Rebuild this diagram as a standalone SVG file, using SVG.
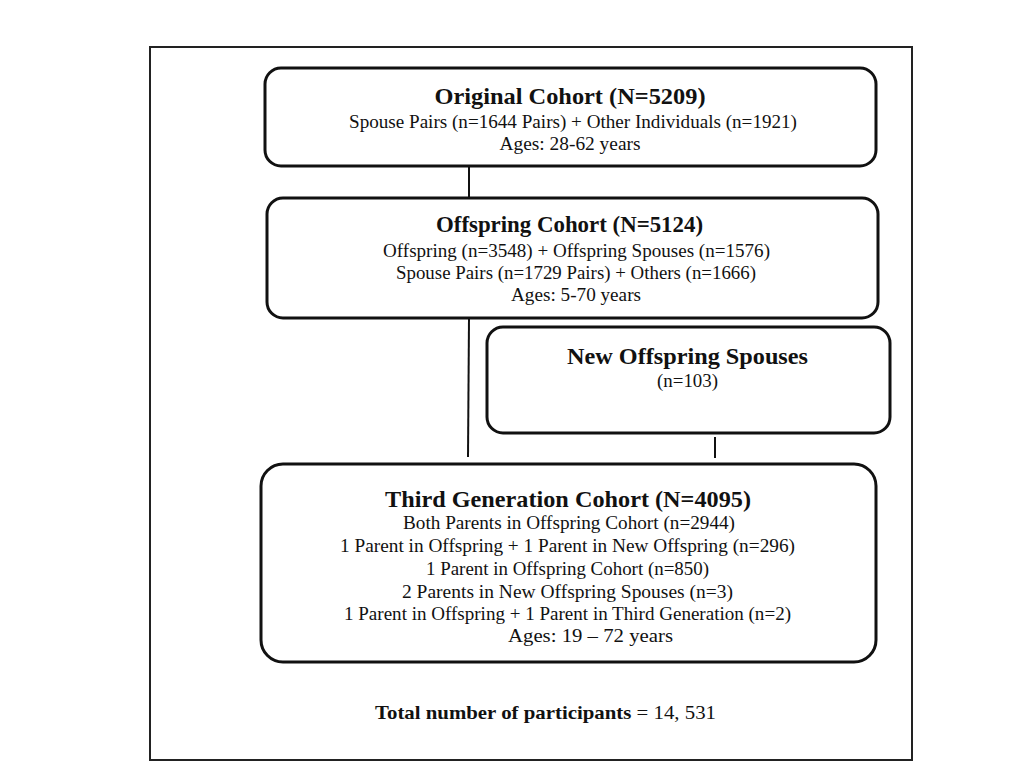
<svg xmlns="http://www.w3.org/2000/svg" width="1024" height="768" viewBox="0 0 1024 768">
<style>
.box{fill:#fff;stroke:#111;stroke-width:3}
.frame{fill:#fff;stroke:#222;stroke-width:2}
.conn{stroke:#111;stroke-width:2;fill:none}
text{font-family:"Liberation Serif","Times New Roman",Times,serif;fill:#111;text-anchor:middle}
.t{font-size:23px;font-weight:bold}
.b{font-size:18.5px}
.tot{font-size:19px}
</style>
<rect width="1024" height="768" fill="#fff"/>
<rect class="frame" x="150" y="47" width="762" height="713"/>
<g id="connectors">
<line class="conn" x1="469" y1="166" x2="469" y2="198"/>
<line class="conn" x1="469" y1="318" x2="468" y2="457"/>
<line class="conn" x1="715" y1="437" x2="715" y2="458"/>
</g>
<g id="original">
<rect class="box" x="265" y="68" width="611" height="98" rx="16"/>
<text class="t" x="570" y="104" textLength="271" lengthAdjust="spacingAndGlyphs">Original Cohort (N=5209)</text>
<text class="b" x="573" y="128" textLength="448" lengthAdjust="spacingAndGlyphs">Spouse Pairs (n=1644 Pairs) + Other Individuals (n=1921)</text>
<text class="b" x="570" y="150" textLength="141" lengthAdjust="spacingAndGlyphs">Ages: 28-62 years</text>
</g>
<g id="offspring">
<rect class="box" x="267" y="198" width="611" height="120" rx="16"/>
<text class="t" x="569.5" y="232" textLength="267" lengthAdjust="spacingAndGlyphs">Offspring Cohort (N=5124)</text>
<text class="b" x="576.5" y="257" textLength="387" lengthAdjust="spacingAndGlyphs">Offspring (n=3548) + Offspring Spouses (n=1576)</text>
<text class="b" x="576" y="279" textLength="360" lengthAdjust="spacingAndGlyphs">Spouse Pairs (n=1729 Pairs) + Others (n=1666)</text>
<text class="b" x="576" y="301" textLength="130" lengthAdjust="spacingAndGlyphs">Ages: 5-70 years</text>
</g>
<g id="newspouses">
<rect class="box" x="487" y="327" width="403" height="106" rx="16"/>
<text class="t" x="687.5" y="364" textLength="241" lengthAdjust="spacingAndGlyphs">New Offspring Spouses</text>
<text class="b" x="687.5" y="387" textLength="61" lengthAdjust="spacingAndGlyphs">(n=103)</text>
</g>
<g id="thirdgen">
<rect class="box" x="261" y="464" width="615" height="198" rx="22"/>
<text class="t" x="568" y="507" textLength="366" lengthAdjust="spacingAndGlyphs">Third Generation Cohort (N=4095)</text>
<text class="b" x="569" y="529" textLength="332" lengthAdjust="spacingAndGlyphs">Both Parents in Offspring Cohort (n=2944)</text>
<text class="b" x="567.5" y="552" textLength="455" lengthAdjust="spacingAndGlyphs">1 Parent in Offspring + 1 Parent in New Offspring (n=296)</text>
<text class="b" x="567.5" y="575" textLength="283" lengthAdjust="spacingAndGlyphs">1 Parent in Offspring Cohort (n=850)</text>
<text class="b" x="567.5" y="598" textLength="331" lengthAdjust="spacingAndGlyphs">2 Parents in New Offspring Spouses (n=3)</text>
<text class="b" x="567.5" y="620" textLength="447" lengthAdjust="spacingAndGlyphs">1 Parent in Offspring + 1 Parent in Third Generation (n=2)</text>
<text class="b" x="590.5" y="642" textLength="165" lengthAdjust="spacingAndGlyphs">Ages: 19 – 72 years</text>
</g>
<g id="total">
<text class="tot" x="545.5" y="719" textLength="341" lengthAdjust="spacingAndGlyphs"><tspan font-weight="bold">Total number of participants</tspan> = 14, 531</text>
</g>
</svg>
